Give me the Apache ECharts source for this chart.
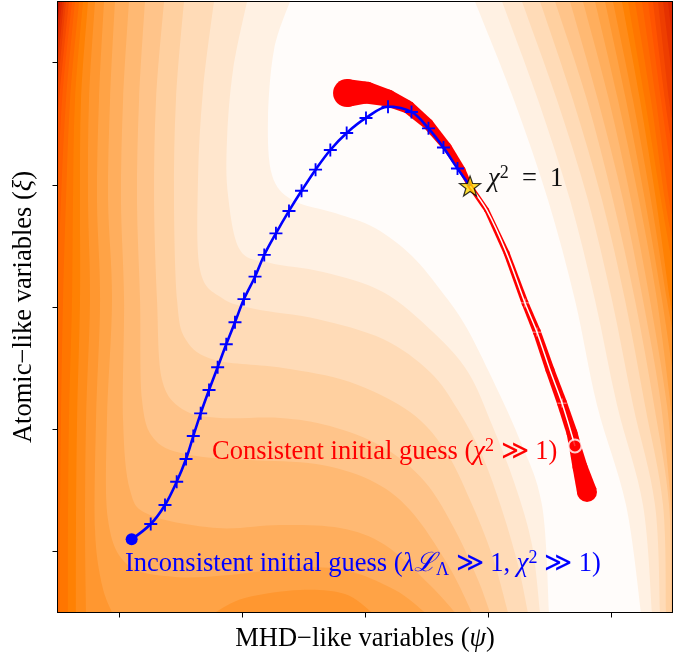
<!DOCTYPE html>
<html>
<head>
<meta charset="utf-8">
<script src="https://cdn.jsdelivr.net/npm/echarts@6/dist/echarts.min.js"></script>
<style>
  html, body { margin: 0; padding: 0; background: #fff; }
  #chart { width: 691px; height: 659px; }
</style>
</head>
<body>
<div id="chart"></div>
<script>
// axis ranges (psi on x, xi on y), ticks carry no labels
const xRange = [-0.5, 4.5];
const yRange = [-0.5, 4.5];
const xTicks = [0, 1, 2, 3, 4];
const yTicks = [0, 1, 2, 3, 4];

// contour boundaries of the landscape: [psi, xi]
// left side of each sub-level set, from the top edge downwards
const leftContours = [
  [[1.39, 4.5], [1.26, 4.103], [1.211, 3.53], [1.244, 3.08], [1.407, 2.876], [1.756, 2.769], [2.081, 2.646], [2.382, 2.417], [2.626, 2.123], [2.813, 1.853], [3.008, 1.468], [3.252, 0.928], [3.439, 0.38], [3.496, -0.5]],
  [[1.041, 4.5], [0.927, 3.939], [0.878, 3.367], [0.886, 2.917], [0.984, 2.466], [1.228, 2.36], [1.659, 2.286], [2.146, 2.123], [2.553, 1.795], [2.837, 1.468], [3.033, 1.034], [3.22, 0.543], [3.358, 0.052], [3.423, -0.5]],
  [[0.772, 4.5], [0.683, 3.776], [0.642, 3.039], [0.659, 2.303], [0.837, 2.074], [1.106, 1.984], [1.61, 1.902], [2.146, 1.738], [2.528, 1.468], [2.756, 1.157], [2.951, 0.789], [3.114, 0.339], [3.244, -0.111], [3.325, -0.5]],
  [[0.528, 4.5], [0.463, 3.694], [0.447, 2.876], [0.472, 2.057], [0.545, 1.73], [0.78, 1.566], [1.333, 1.501], [1.878, 1.386], [2.366, 1.141], [2.65, 0.83], [2.854, 0.421], [3.033, -0.029], [3.163, -0.5]],
  [[0.366, 4.5], [0.301, 3.694], [0.285, 2.876], [0.309, 2.057], [0.35, 1.403], [0.528, 1.157], [0.821, 1.092], [1.309, 1.092], [1.715, 1.026], [2.146, 0.854], [2.488, 0.568], [2.732, 0.175], [2.919, -0.234], [3.016, -0.5]],
  [[0.211, 4.5], [0.163, 3.694], [0.146, 2.876], [0.171, 2.057], [0.187, 1.239], [0.293, 0.912], [0.577, 0.789], [1.065, 0.748], [1.602, 0.715], [2.041, 0.584], [2.366, 0.339], [2.675, -0.111], [2.87, -0.5]],
  [[0.081, 4.5], [0.033, 3.694], [0.016, 2.876], [0.041, 2.057], [0.033, 1.075], [0.089, 0.502], [0.252, 0.298], [0.797, 0.191], [1.309, 0.216], [1.797, 0.191], [2.163, 0.052], [2.528, -0.275], [2.732, -0.5]],
  [[-0.033, 4.5], [-0.073, 3.694], [-0.089, 2.876], [-0.057, 2.057], [-0.098, 1.075], [-0.089, 0.257], [0.073, -0.111], [0.455, -0.209], [0.902, -0.193], [1.39, -0.136], [1.837, -0.152], [2.244, -0.316], [2.488, -0.5]],
  [[-0.122, 4.5], [-0.163, 3.694], [-0.179, 2.876], [-0.154, 2.057], [-0.187, 1.075], [-0.195, 0.175], [-0.138, -0.275], [-0.057, -0.5]],
  [[-0.195, 4.5], [-0.244, 3.694], [-0.252, 2.876], [-0.236, 2.057], [-0.268, 1.075], [-0.276, 0.175], [-0.268, -0.5]],
  [[-0.252, 4.5], [-0.309, 3.694], [-0.317, 2.876], [-0.317, 2.057], [-0.341, 1.075], [-0.35, 0.175], [-0.35, -0.5]],
  [[-0.293, 4.5], [-0.358, 3.694], [-0.374, 2.876], [-0.382, 2.057], [-0.407, 1.075], [-0.415, 0.175], [-0.415, -0.5]],
  [[-0.325, 4.5], [-0.398, 3.694], [-0.431, 2.876], [-0.455, 2.057], [-0.472, 1.075], [-0.48, 0.175], [-0.48, -0.5]],
  [[-0.358, 4.5], [-0.431, 3.694], [-0.472, 2.876], [-0.5, 2.057]],
  [[-0.382, 4.5], [-0.463, 3.694], [-0.5, 2.876]],
  [[-0.407, 4.5], [-0.48, 3.776], [-0.5, 3.53]],
  [[-0.431, 4.5], [-0.5, 3.776]],
  [[-0.447, 4.5], [-0.5, 3.98]],
  [[-0.463, 4.5], [-0.5, 4.144]],
  [[-0.48, 4.5], [-0.5, 4.308]]
];
// right side of each sub-level set, from the top edge downwards
const rightContours = [
  [[2.894, 4.5], [3.211, 3.694], [3.488, 2.876], [3.707, 2.057], [3.886, 1.198], [4.122, 0.38], [4.244, -0.5]],
  [[3.114, 4.5], [3.407, 3.694], [3.667, 2.876], [3.87, 2.057], [4.049, 1.198], [4.26, 0.38], [4.333, -0.5]],
  [[3.276, 4.5], [3.561, 3.694], [3.813, 2.876], [4.008, 2.057], [4.179, 1.198], [4.358, 0.38], [4.398, -0.5]],
  [[3.423, 4.5], [3.691, 3.694], [3.927, 2.876], [4.114, 2.057], [4.276, 1.198], [4.423, 0.38], [4.447, -0.5]],
  [[3.545, 4.5], [3.805, 3.694], [4.016, 2.876], [4.195, 2.057], [4.35, 1.198], [4.472, 0.38], [4.488, -0.5]],
  [[3.667, 4.5], [3.894, 3.694], [4.098, 2.876], [4.26, 2.057], [4.407, 1.198], [4.5, 0.257]],
  [[3.772, 4.5], [3.984, 3.694], [4.163, 2.876], [4.317, 2.057], [4.455, 1.198], [4.5, 0.666]],
  [[3.87, 4.5], [4.057, 3.694], [4.228, 2.876], [4.374, 2.057], [4.5, 1.075]],
  [[3.951, 4.5], [4.122, 3.694], [4.276, 2.876], [4.415, 2.057], [4.5, 1.484]],
  [[4.016, 4.5], [4.179, 3.694], [4.325, 2.876], [4.455, 2.057], [4.5, 1.812]],
  [[4.089, 4.5], [4.236, 3.694], [4.366, 2.876], [4.48, 2.057], [4.5, 1.975]],
  [[4.138, 4.5], [4.276, 3.694], [4.407, 2.876], [4.5, 2.344]],
  [[4.195, 4.5], [4.325, 3.694], [4.439, 2.876], [4.5, 2.548]],
  [[4.252, 4.5], [4.366, 3.694], [4.472, 2.876], [4.5, 2.753]],
  [[4.301, 4.5], [4.407, 3.694], [4.5, 3.039]],
  [[4.341, 4.5], [4.439, 3.694], [4.5, 3.285]],
  [[4.382, 4.5], [4.472, 3.694], [4.5, 3.53]],
  [[4.423, 4.5], [4.5, 3.858]],
  [[4.463, 4.5], [4.5, 4.185]],
  [[4.5, 4.5]]
];
// small raised patch along the bottom edge (one level higher)
const bottomBump = [[0.78, -0.5], [1.024, -0.381], [1.472, -0.316], [1.837, -0.349], [2.057, -0.5]];

// inconsistent initial guess -> converged point
const inconsistentPath = [
  [0.103, 0.099], [0.258, 0.224], [0.374, 0.38], [0.469, 0.57], [0.545, 0.756], [0.604, 0.944],
  [0.664, 1.13], [0.732, 1.321], [0.802, 1.507], [0.872, 1.695], [0.943, 1.875], [1.016, 2.065],
  [1.106, 2.248], [1.181, 2.426], [1.276, 2.603], [1.382, 2.786], [1.484, 2.951], [1.598, 3.124],
  [1.718, 3.285], [1.851, 3.424], [2.008, 3.547], [2.187, 3.639], [2.378, 3.596], [2.516, 3.462],
  [2.638, 3.305], [2.752, 3.133], [2.854, 2.99]
];
// thick red curve (consistent manifold)
const consistentBand = [
  [1.854, 3.751], [2.008, 3.755], [2.187, 3.71], [2.35, 3.637], [2.512, 3.498], [2.667, 3.309],
  [2.789, 3.121], [2.854, 2.99], [2.989, 2.794], [3.152, 2.439], [3.301, 2.033], [3.398, 1.795],
  [3.504, 1.484], [3.602, 1.214], [3.683, 0.969], [3.707, 0.863], [3.748, 0.691], [3.805, 0.486]
];
// consistent initial guess -> converged point
const consistentPath = [
  [3.707, 0.863], [3.602, 1.214], [3.504, 1.484], [3.398, 1.795], [3.301, 2.033],
  [3.152, 2.439], [2.989, 2.794], [2.854, 2.99]
];
const consistentSteps = [[3.602, 1.214], [3.398, 1.795], [3.301, 2.033]];
const chiSquaredOne = [2.854, 2.99];

// ---- styles ----
const levelColors = ['#fffcfa', '#fff1e3', '#ffe6cd', '#ffdbb7', '#ffd0a0', '#ffc48a', '#ffb973',
  '#ffae5d', '#ffa346', '#ff9730', '#ff8c1a', '#ff8103', '#ff7600', '#ff6a00', '#ff5f00', '#ff5400',
  '#f64900', '#ee3e00', '#e53200', '#dd2700', '#c81400'];
const bandWidths = [28, 22, 17, 13, 11, 9, 7, 5, 5, 6, 7, 8, 9, 10, 11, 12, 15, 20];
const SERIF = "'Liberation Serif', 'DejaVu Serif', serif";
const FS = 26.5;
const PLUS = 'path://M-1,-7H1V-1H7V1H1V7H-1V1H-7V-1H-1Z';
const THIN_PLUS = 'path://M-0.6,-7H0.6V-0.6H7V0.6H0.6V7H-0.6V0.6H-7V-0.6H-0.6Z';
const STAR = 'path://M0,-10L2.35,-3.24L9.51,-3.09L3.8,1.24L5.88,8.09L0,4L-5.88,8.09L-3.8,1.24L-9.51,-3.09L-2.35,-3.24Z';

// bands drawn from the outermost level inwards
const bands = [{ left: [[xRange[0], yRange[1]]], right: [[xRange[1], yRange[1]]], color: levelColors[20] }];
for (let k = leftContours.length - 1; k >= 0; k--) {
  bands.push({ left: leftContours[k], right: rightContours[k], color: levelColors[k] });
  if (k === 8) bands.push({ closed: bottomBump, color: levelColors[9] });
}

function spline(p) {
  let d = '';
  for (let i = 0; i < p.length - 1; i++) {
    const p0 = p[i - 1] || p[i], p1 = p[i], p2 = p[i + 1], p3 = p[i + 2] || p[i + 1];
    const c1 = [p1[0] + (p2[0] - p0[0]) / 6, p1[1] + (p2[1] - p0[1]) / 6];
    const c2 = [p2[0] - (p3[0] - p1[0]) / 6, p2[1] - (p3[1] - p1[1]) / 6];
    d += ' C' + c1 + ' ' + c2 + ' ' + p2;
  }
  return d;
}

function bandPath(b, api) {
  if (b.closed) {
    const c = b.closed.map(p => api.coord(p));
    return 'M' + c[0] + spline(c) + ' Z';
  }
  const l = b.left.map(p => api.coord(p));
  const r = b.right.map(p => api.coord(p)).reverse();
  let d = 'M' + l[0] + spline(l);
  const lastL = b.left[b.left.length - 1];
  const lastR = b.right[b.right.length - 1];
  if (lastL[0] <= xRange[0] + 1e-9 && lastL[1] > yRange[0]) d += ' L' + api.coord([xRange[0], yRange[0]]);
  if (lastR[0] >= xRange[1] - 1e-9 && lastR[1] > yRange[0]) d += ' L' + api.coord([xRange[1], yRange[0]]);
  d += ' L' + r[0] + spline(r) + ' Z';
  return d;
}

function zrRich(color) {
  return {
    n: { fontFamily: SERIF, fontSize: FS, lineHeight: 30, fill: color },
    i: { fontFamily: SERIF, fontSize: FS, lineHeight: 30, fontStyle: 'italic', fill: color },
    sup: { fontFamily: SERIF, fontSize: 18, lineHeight: 18, verticalAlign: 'top', fill: color },
    sub: { fontFamily: SERIF, fontSize: 18, lineHeight: 18, verticalAlign: 'bottom', fill: color }
  };
}
const axisRich = {
  n: { fontFamily: SERIF, fontSize: FS, color: '#000' },
  i: { fontFamily: SERIF, fontSize: FS, fontStyle: 'italic', color: '#000' }
};

const frame = { show: true, onZero: false, lineStyle: { color: '#000', width: 1 } };
const tick = { show: true, inside: false, length: 5, lineStyle: { color: '#000', width: 1 } };

const chart = echarts.init(document.getElementById('chart'), null, { renderer: 'canvas' });
chart.setOption({
  animation: false,
  backgroundColor: '#fff',
  grid: { left: 57.5, right: 18.5, top: 1.5, bottom: 46.5, containLabel: false },
  xAxis: [
    {
      type: 'value', min: xRange[0], max: xRange[1], position: 'bottom', z: 10,
      axisLine: frame, axisTick: Object.assign({ customValues: xTicks }, tick),
      axisLabel: { show: false, customValues: xTicks }, splitLine: { show: false },
      name: '{n|MHD−like variables (}{i|ψ}{n|)}', nameLocation: 'middle', nameGap: 13,
      nameTextStyle: { rich: axisRich }
    },
    {
      type: 'value', min: xRange[0], max: xRange[1], position: 'top', z: 10,
      axisLine: frame, axisTick: { show: false }, axisLabel: { show: false }, splitLine: { show: false }
    }
  ],
  yAxis: [
    {
      type: 'value', min: yRange[0], max: yRange[1], position: 'left', z: 10,
      axisLine: frame, axisTick: Object.assign({ customValues: yTicks }, tick),
      axisLabel: { show: false, customValues: yTicks }, splitLine: { show: false },
      name: '{n|Atomic−like variables (}{i|ξ}{n|)}', nameLocation: 'middle', nameGap: 20,
      nameTextStyle: { rich: axisRich }
    },
    {
      type: 'value', min: yRange[0], max: yRange[1], position: 'right', z: 10,
      axisLine: frame, axisTick: { show: false }, axisLabel: { show: false }, splitLine: { show: false }
    }
  ],
  series: [
    {
      type: 'custom', name: 'landscape', coordinateSystem: 'cartesian2d', silent: true, clip: true, z: 1,
      data: bands.map((b, i) => [i, 0]),
      renderItem: (params, api) => {
        const b = bands[params.dataIndex];
        return { type: 'path', shape: { pathData: bandPath(b, api) }, style: { fill: b.color } };
      }
    },
    {
      type: 'custom', name: 'consistent manifold', coordinateSystem: 'cartesian2d', silent: true, clip: true, z: 2,
      data: [[0, 0]],
      renderItem: (params, api) => {
        const pts = consistentBand.map(p => api.coord(p));
        const children = [];
        for (let i = 0; i < pts.length - 1; i++) {
          const [x0, y0] = pts[i], [x1, y1] = pts[i + 1];
          const len = Math.hypot(x1 - x0, y1 - y0) || 1;
          const nx = -(y1 - y0) / len, ny = (x1 - x0) / len;
          const h0 = bandWidths[i] / 2, h1 = bandWidths[i + 1] / 2;
          children.push({
            type: 'polygon',
            shape: { points: [[x0 + nx * h0, y0 + ny * h0], [x1 + nx * h1, y1 + ny * h1], [x1 - nx * h1, y1 - ny * h1], [x0 - nx * h0, y0 - ny * h0]] },
            style: { fill: '#ff0000' }
          });
        }
        pts.forEach((p, i) => children.push({ type: 'circle', shape: { cx: p[0], cy: p[1], r: bandWidths[i] / 2 }, style: { fill: '#ff0000' } }));
        return { type: 'group', children };
      }
    },
    {
      type: 'line', name: 'consistent guess', data: consistentPath, smooth: 0.3, symbol: 'none', z: 3,
      lineStyle: { color: '#ffffff', width: 1.5 }
    },
    {
      type: 'scatter', data: consistentSteps, symbol: THIN_PLUS, symbolSize: 9, z: 4,
      itemStyle: { color: '#ffffff' }
    },
    {
      type: 'scatter', data: [consistentPath[0]], symbol: 'circle', symbolSize: 13, z: 5,
      itemStyle: { color: '#ff0000', borderColor: '#ffffff', borderWidth: 2 }
    },
    {
      type: 'line', name: 'inconsistent guess', data: inconsistentPath, smooth: 0.35, z: 6,
      showSymbol: true, showAllSymbol: true,
      symbol: (v, p) => p.dataIndex === 0 ? 'circle' : (p.dataIndex === inconsistentPath.length - 1 ? 'none' : PLUS),
      symbolSize: (v, p) => p.dataIndex === 0 ? 12 : 13,
      lineStyle: { color: '#0000ff', width: 2.6 },
      itemStyle: { color: '#0000ff', borderWidth: 0 }
    },
    {
      type: 'scatter', data: [chiSquaredOne], symbol: STAR, symbolSize: 21, symbolKeepAspect: true, z: 7,
      itemStyle: { color: '#ffd700', borderColor: '#000000', borderWidth: 1.2 }
    }
  ],
  graphic: [
    { type: 'text', x: 488, y: 179, z: 100, style: { text: '{i|χ}{sup|2}{n|  =  1}', rich: zrRich('#111111'), align: 'left', verticalAlign: 'middle' } },
    { type: 'text', x: 212, y: 452, z: 100, style: { text: '{n|Consistent initial guess (}{i|χ}{sup|2}{n| ≫ 1)}', rich: zrRich('#ff0000'), align: 'left', verticalAlign: 'middle' } },
    { type: 'text', x: 125, y: 564, z: 100, style: { text: '{n|Inconsistent initial guess (}{i|λℒ}{sub|Λ}{n| ≫ 1, }{i|χ}{sup|2}{n| ≫ 1)}', rich: zrRich('#0000ff'), align: 'left', verticalAlign: 'middle' } }
  ]
});
</script>
</body>
</html>
